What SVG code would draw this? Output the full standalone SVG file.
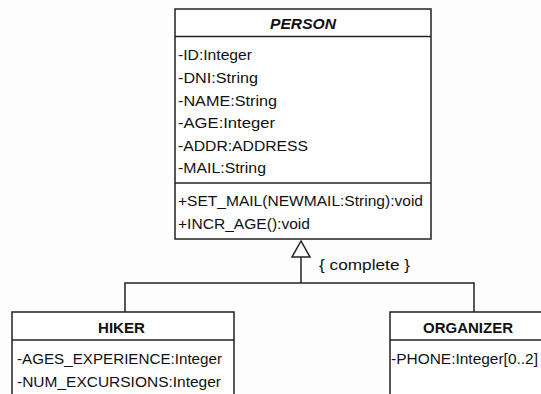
<svg xmlns="http://www.w3.org/2000/svg" width="541" height="394" viewBox="0 0 541 394">
<style>
.box{fill:#fff;stroke:#222;stroke-width:1.5}
.sep{stroke:#222;stroke-width:1.5;fill:none}
.con{stroke:#222;stroke-width:1.5;fill:none}
.t{font-family:"Liberation Sans",Arial,sans-serif;font-size:14px;fill:#111}
.h{font-family:"Liberation Sans",Arial,sans-serif;font-size:14px;font-weight:bold;fill:#111}
</style>
<rect width="541" height="394" fill="#fdfdfd"/>
<g id="connectors">
<polyline class="con" points="125,312 125,283 474,283 474,312"/>
<line class="con" x1="301" y1="257" x2="301" y2="283"/>
<polygon points="301,241 292,257 310,257" fill="#fff" stroke="#222" stroke-width="1.5"/>
<text class="t" x="319" y="270" textLength="91" lengthAdjust="spacingAndGlyphs">{ complete }</text>
</g>
<g id="person">
<rect class="box" x="175" y="9" width="256" height="230"/>
<line class="sep" x1="175" y1="36.5" x2="431" y2="36.5"/>
<line class="sep" x1="175" y1="183" x2="431" y2="183"/>
<text class="h" x="270" y="29.3" font-style="italic" textLength="66" lengthAdjust="spacingAndGlyphs">PERSON</text>
<text class="t" x="178" y="60" textLength="74" lengthAdjust="spacingAndGlyphs">-ID:Integer</text>
<text class="t" x="178" y="83" textLength="80" lengthAdjust="spacingAndGlyphs">-DNI:String</text>
<text class="t" x="178" y="105.5" textLength="99" lengthAdjust="spacingAndGlyphs">-NAME:String</text>
<text class="t" x="178" y="128" textLength="97" lengthAdjust="spacingAndGlyphs">-AGE:Integer</text>
<text class="t" x="178" y="150.5" textLength="130" lengthAdjust="spacingAndGlyphs">-ADDR:ADDRESS</text>
<text class="t" x="178" y="173" textLength="88" lengthAdjust="spacingAndGlyphs">-MAIL:String</text>
<text class="t" x="178" y="206" textLength="245" lengthAdjust="spacingAndGlyphs">+SET_MAIL(NEWMAIL:String):void</text>
<text class="t" x="178" y="228.5" textLength="132" lengthAdjust="spacingAndGlyphs">+INCR_AGE():void</text>
</g>
<g id="hiker">
<rect class="box" x="12" y="312" width="222" height="100"/>
<line class="sep" x1="12" y1="340" x2="234" y2="340"/>
<text class="h" x="98" y="332.7" textLength="47" lengthAdjust="spacingAndGlyphs">HIKER</text>
<text class="t" x="17" y="364" textLength="205" lengthAdjust="spacingAndGlyphs">-AGES_EXPERIENCE:Integer</text>
<text class="t" x="17" y="387" textLength="204" lengthAdjust="spacingAndGlyphs">-NUM_EXCURSIONS:Integer</text>
</g>
<g id="organizer">
<rect class="box" x="390" y="312" width="160" height="100"/>
<line class="sep" x1="390" y1="340" x2="550" y2="340"/>
<text class="h" x="423" y="332.7" textLength="90" lengthAdjust="spacingAndGlyphs">ORGANIZER</text>
<text class="t" x="391" y="364" textLength="147" lengthAdjust="spacingAndGlyphs">-PHONE:Integer[0..2]</text>
</g>
</svg>
